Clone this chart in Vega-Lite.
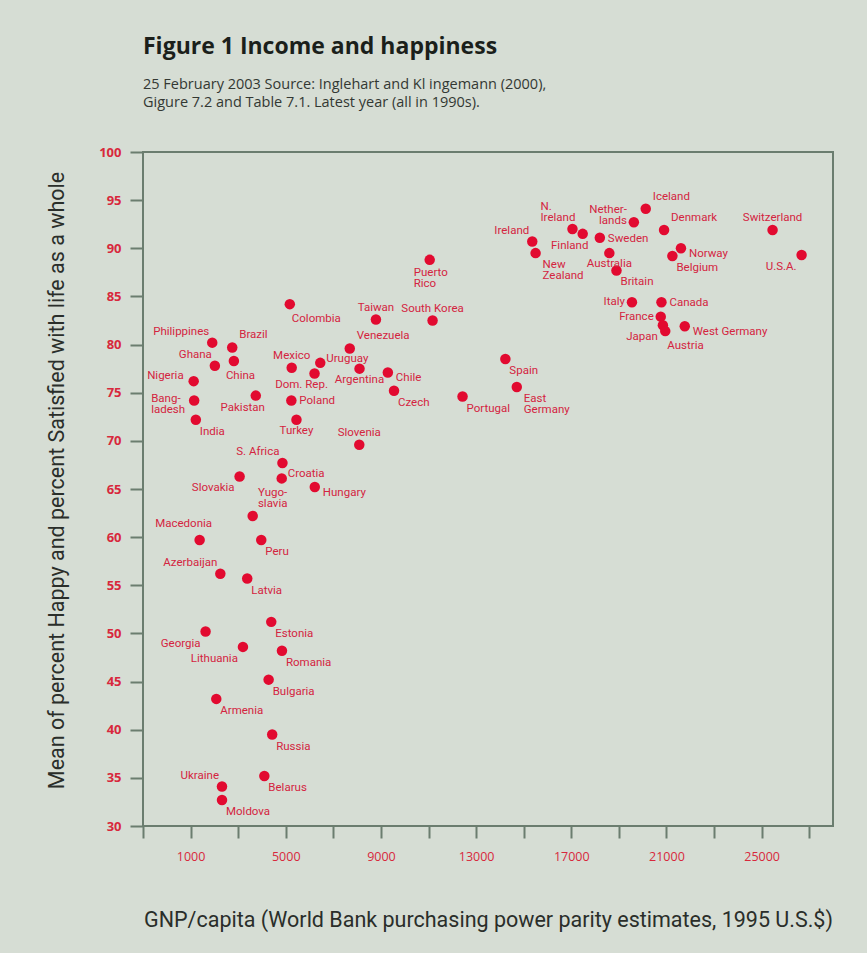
{
  "$schema": "https://vega.github.io/schema/vega-lite/v6.json",
  "width": 690,
  "height": 674,
  "autosize": {"type": "none"},
  "padding": {"left": 143, "top": 152, "right": 34, "bottom": 127},
  "background": "#d6ddd4",
  "title": {
    "text": "Figure 1 Income and happiness",
    "subtitle": ["25 February 2003 Source: Inglehart and Kl ingemann (2000),", "Gigure 7.2 and Table 7.1. Latest year (all in 1990s)."],
    "anchor": "start",
    "frame": "group",
    "font": "Open Sans",
    "fontSize": 23,
    "fontWeight": "bold",
    "color": "#1b1f1b",
    "subtitleFont": "Open Sans",
    "subtitleFontSize": 14.5,
    "subtitleColor": "#333833",
    "subtitleLineHeight": 18,
    "subtitlePadding": 19,
    "offset": 37
  },
  "data": {
    "values": [
      {"country": "Nigeria", "label": "Nigeria", "gnp": 1130, "happy": 76.2},
      {"country": "Bangladesh", "label": "Bang-\nladesh", "gnp": 1150, "happy": 74.2},
      {"country": "India", "label": "India", "gnp": 1220, "happy": 72.2},
      {"country": "Philippines", "label": "Philippines", "gnp": 1910, "happy": 80.2},
      {"country": "Ghana", "label": "Ghana", "gnp": 2020, "happy": 77.8},
      {"country": "Brazil", "label": "Brazil", "gnp": 2750, "happy": 79.7},
      {"country": "China", "label": "China", "gnp": 2820, "happy": 78.3},
      {"country": "Pakistan", "label": "Pakistan", "gnp": 3740, "happy": 74.7},
      {"country": "Colombia", "label": "Colombia", "gnp": 5170, "happy": 84.2},
      {"country": "Mexico", "label": "Mexico", "gnp": 5250, "happy": 77.6},
      {"country": "Poland", "label": "Poland", "gnp": 5235, "happy": 74.2},
      {"country": "Turkey", "label": "Turkey", "gnp": 5450, "happy": 72.2},
      {"country": "Uruguay", "label": "Uruguay", "gnp": 6450, "happy": 78.1},
      {"country": "Dom. Rep.", "label": "Dom. Rep.", "gnp": 6210, "happy": 77.0},
      {"country": "Venezuela", "label": "Venezuela", "gnp": 7690, "happy": 79.6},
      {"country": "Argentina", "label": "Argentina", "gnp": 8100, "happy": 77.5},
      {"country": "Taiwan", "label": "Taiwan", "gnp": 8790, "happy": 82.6},
      {"country": "Chile", "label": "Chile", "gnp": 9290, "happy": 77.1},
      {"country": "Czech", "label": "Czech", "gnp": 9550, "happy": 75.2},
      {"country": "Slovenia", "label": "Slovenia", "gnp": 8090, "happy": 69.6},
      {"country": "Puerto Rico", "label": "Puerto\nRico", "gnp": 11050, "happy": 88.8},
      {"country": "South Korea", "label": "South Korea", "gnp": 11170, "happy": 82.5},
      {"country": "Portugal", "label": "Portugal", "gnp": 12430, "happy": 74.6},
      {"country": "Spain", "label": "Spain", "gnp": 14230, "happy": 78.5},
      {"country": "East Germany", "label": "East\nGermany", "gnp": 14710, "happy": 75.6},
      {"country": "S. Africa", "label": "S. Africa", "gnp": 4860, "happy": 67.7},
      {"country": "Croatia", "label": "Croatia", "gnp": 4830, "happy": 66.1},
      {"country": "Slovakia", "label": "Slovakia", "gnp": 3060, "happy": 66.3},
      {"country": "Hungary", "label": "Hungary", "gnp": 6220, "happy": 65.2},
      {"country": "Yugoslavia", "label": "Yugo-\nslavia", "gnp": 3610, "happy": 62.2},
      {"country": "Macedonia", "label": "Macedonia", "gnp": 1380, "happy": 59.7},
      {"country": "Peru", "label": "Peru", "gnp": 3970, "happy": 59.7},
      {"country": "Azerbaijan", "label": "Azerbaijan", "gnp": 2250, "happy": 56.2},
      {"country": "Latvia", "label": "Latvia", "gnp": 3380, "happy": 55.7},
      {"country": "Estonia", "label": "Estonia", "gnp": 4390, "happy": 51.2},
      {"country": "Georgia", "label": "Georgia", "gnp": 1630, "happy": 50.2},
      {"country": "Lithuania", "label": "Lithuania", "gnp": 3200, "happy": 48.6},
      {"country": "Romania", "label": "Romania", "gnp": 4840, "happy": 48.2},
      {"country": "Bulgaria", "label": "Bulgaria", "gnp": 4280, "happy": 45.2},
      {"country": "Armenia", "label": "Armenia", "gnp": 2080, "happy": 43.2},
      {"country": "Russia", "label": "Russia", "gnp": 4430, "happy": 39.5},
      {"country": "Belarus", "label": "Belarus", "gnp": 4100, "happy": 35.2},
      {"country": "Ukraine", "label": "Ukraine", "gnp": 2320, "happy": 34.1},
      {"country": "Moldova", "label": "Moldova", "gnp": 2320, "happy": 32.7},
      {"country": "Ireland", "label": "Ireland", "gnp": 15360, "happy": 90.7},
      {"country": "New Zealand", "label": "New\nZealand", "gnp": 15500, "happy": 89.5},
      {"country": "N. Ireland", "label": "N.\nIreland", "gnp": 17050, "happy": 92.0},
      {"country": "Finland", "label": "Finland", "gnp": 17480, "happy": 91.5},
      {"country": "Sweden", "label": "Sweden", "gnp": 18200, "happy": 91.1},
      {"country": "Australia", "label": "Australia", "gnp": 18600, "happy": 89.5},
      {"country": "Britain", "label": "Britain", "gnp": 18900, "happy": 87.7},
      {"country": "Netherlands", "label": "Nether-\nlands", "gnp": 19630, "happy": 92.7},
      {"country": "Iceland", "label": "Iceland", "gnp": 20130, "happy": 94.1},
      {"country": "Denmark", "label": "Denmark", "gnp": 20900, "happy": 91.9},
      {"country": "Norway", "label": "Norway", "gnp": 21610, "happy": 90.0},
      {"country": "Belgium", "label": "Belgium", "gnp": 21250, "happy": 89.2},
      {"country": "Switzerland", "label": "Switzerland", "gnp": 25460, "happy": 91.9},
      {"country": "U.S.A.", "label": "U.S.A.", "gnp": 26680, "happy": 89.3},
      {"country": "Italy", "label": "Italy", "gnp": 19550, "happy": 84.4},
      {"country": "Canada", "label": "Canada", "gnp": 20790, "happy": 84.4},
      {"country": "France", "label": "France", "gnp": 20760, "happy": 82.9},
      {"country": "Japan", "label": "Japan", "gnp": 20850, "happy": 82.0},
      {"country": "Austria", "label": "Austria", "gnp": 20950, "happy": 81.4},
      {"country": "West Germany", "label": "West Germany", "gnp": 21770, "happy": 81.9}
    ]
  },
  "encoding": {
    "x": {
      "field": "gnp",
      "type": "quantitative",
      "scale": {"domain": [-1000, 28000], "nice": false, "zero": false},
      "axis": {
        "title": "GNP/capita (World Bank purchasing power parity estimates, 1995 U.S.$)",
        "values": [-1000, 1000, 3000, 5000, 7000, 9000, 11000, 13000, 15000, 17000, 19000, 21000, 23000, 25000, 27000],
        "format": "d",
        "labelExpr": "(datum.value - 1000) % 4000 == 0 ? datum.label : ''",
        "tickSize": 12,
        "labelPadding": 12,
        "labelFont": "Open Sans",
        "labelFontSize": 12.5,
        "titleFont": "Roboto",
        "titleFontSize": 21.5,
        "titlePadding": 47
      }
    },
    "y": {
      "field": "happy",
      "type": "quantitative",
      "scale": {"domain": [30, 100], "nice": false, "zero": false},
      "axis": {
        "title": "Mean of percent Happy and percent Satisfied with life as a whole",
        "values": [30, 35, 40, 45, 50, 55, 60, 65, 70, 75, 80, 85, 90, 95, 100],
        "tickSize": 13,
        "labelPadding": 9,
        "labelFont": "Open Sans",
        "labelFontSize": 13,
        "labelFontWeight": "bold",
        "titleFont": "Roboto",
        "titleFontSize": 21.5,
        "titlePadding": 30,
        "titleY": 328
      }
    }
  },
  "layer": [
    {"mark": {"type": "circle", "size": 110, "color": "#e20a30", "opacity": 1}},
    {"transform": [{"filter": {"field": "country", "oneOf": ["Poland", "Sweden", "Canada"]}}],
     "mark": {"type": "text", "align": "left", "dx": 8, "dy": 1}, "encoding": {"text": {"field": "label"}}},
    {"transform": [{"filter": {"field": "country", "oneOf": ["Chile", "West Germany", "Norway", "Hungary"]}}],
     "mark": {"type": "text", "align": "left", "dx": 8, "dy": 6}, "encoding": {"text": {"field": "label"}}},
    {"transform": [{"filter": {"field": "country", "oneOf": ["Uruguay", "Croatia"]}}],
     "mark": {"type": "text", "align": "left", "dx": 6, "dy": -4}, "encoding": {"text": {"field": "label"}}},
    {"transform": [{"filter": {"field": "country", "oneOf": ["Italy", "France"]}}],
     "mark": {"type": "text", "align": "right", "dx": -7, "dy": 0}, "encoding": {"text": {"field": "label"}}},
    {"transform": [{"filter": {"field": "country", "oneOf": ["Nigeria"]}}],
     "mark": {"type": "text", "align": "right", "dx": -10, "dy": -5}, "encoding": {"text": {"field": "label"}}},
    {"transform": [{"filter": {"field": "country", "oneOf": ["Czech", "India", "Peru", "Latvia", "Estonia", "Romania", "Bulgaria", "Armenia", "Russia", "Belarus", "Moldova", "Spain", "Portugal", "Britain", "Belgium"]}}],
     "mark": {"type": "text", "align": "left", "dx": 4, "dy": 12}, "encoding": {"text": {"field": "label"}}},
    {"transform": [{"filter": {"field": "country", "oneOf": ["Colombia", "Austria"]}}],
     "mark": {"type": "text", "align": "left", "dx": 2, "dy": 15}, "encoding": {"text": {"field": "label"}}},
    {"transform": [{"filter": {"field": "country", "oneOf": ["Taiwan", "South Korea", "Mexico", "Slovenia", "Switzerland"]}}],
     "mark": {"type": "text", "align": "center", "dx": 0, "dy": -12}, "encoding": {"text": {"field": "label"}}},
    {"transform": [{"filter": {"field": "country", "oneOf": ["Argentina", "Turkey", "Australia"]}}],
     "mark": {"type": "text", "align": "center", "dx": 0, "dy": 11}, "encoding": {"text": {"field": "label"}}},
    {"transform": [{"filter": {"field": "country", "oneOf": ["Dom. Rep.", "Pakistan", "Finland"]}}],
     "mark": {"type": "text", "align": "center", "dx": -13, "dy": 12}, "encoding": {"text": {"field": "label"}}},
    {"transform": [{"filter": {"field": "country", "oneOf": ["Philippines", "Ghana", "S. Africa", "Azerbaijan", "Ukraine", "Ireland"]}}],
     "mark": {"type": "text", "align": "right", "dx": -3, "dy": -11}, "encoding": {"text": {"field": "label"}}},
    {"transform": [{"filter": {"field": "country", "oneOf": ["Slovakia", "Georgia", "Lithuania", "U.S.A.", "Japan"]}}],
     "mark": {"type": "text", "align": "right", "dx": -5, "dy": 12}, "encoding": {"text": {"field": "label"}}},
    {"transform": [{"filter": {"field": "country", "oneOf": ["Brazil", "Venezuela", "Iceland", "Denmark"]}}],
     "mark": {"type": "text", "align": "left", "dx": 7, "dy": -12}, "encoding": {"text": {"field": "label"}}},
    {"transform": [{"filter": {"field": "country", "oneOf": ["China"]}}],
     "mark": {"type": "text", "align": "left", "dx": -8, "dy": 15}, "encoding": {"text": {"field": "label"}}},
    {"transform": [{"filter": {"field": "country", "oneOf": ["Macedonia"]}}],
     "mark": {"type": "text", "align": "center", "dx": -16, "dy": -16}, "encoding": {"text": {"field": "label"}}},
    {"transform": [{"filter": {"field": "country", "oneOf": ["Puerto Rico"]}}],
     "mark": {"type": "text", "align": "left", "dx": -16, "dy": 13}, "encoding": {"text": {"field": "label"}}},
    {"transform": [{"filter": {"field": "country", "oneOf": ["New Zealand", "East Germany"]}}],
     "mark": {"type": "text", "align": "left", "dx": 7, "dy": 12}, "encoding": {"text": {"field": "label"}}},
    {"transform": [{"filter": {"field": "country", "oneOf": ["N. Ireland"]}}],
     "mark": {"type": "text", "align": "left", "dx": -32, "dy": -22}, "encoding": {"text": {"field": "label"}}},
    {"transform": [{"filter": {"field": "country", "oneOf": ["Netherlands"]}}],
     "mark": {"type": "text", "align": "right", "dx": -7, "dy": -12}, "encoding": {"text": {"field": "label"}}},
    {"transform": [{"filter": {"field": "country", "oneOf": ["Yugoslavia"]}}],
     "mark": {"type": "text", "align": "center", "dx": 20, "dy": -23}, "encoding": {"text": {"field": "label"}}},
    {"transform": [{"filter": {"field": "country", "oneOf": ["Bangladesh"]}}],
     "mark": {"type": "text", "align": "left", "dx": -43, "dy": -1}, "encoding": {"text": {"field": "label"}}}
  ],
  "config": {
    "view": {"stroke": "#6b7d6f", "strokeWidth": 2},
    "axis": {
      "grid": false,
      "domain": false,
      "tickColor": "#6b7d6f",
      "tickWidth": 2,
      "labelColor": "#d8283c",
      "titleColor": "#2a2e2a",
      "titleFontWeight": "normal"
    },
    "text": {"font": "Roboto", "fontSize": 11.5, "color": "#d4243f", "lineBreak": "\n", "lineHeight": 11, "baseline": "middle"}
  }
}
